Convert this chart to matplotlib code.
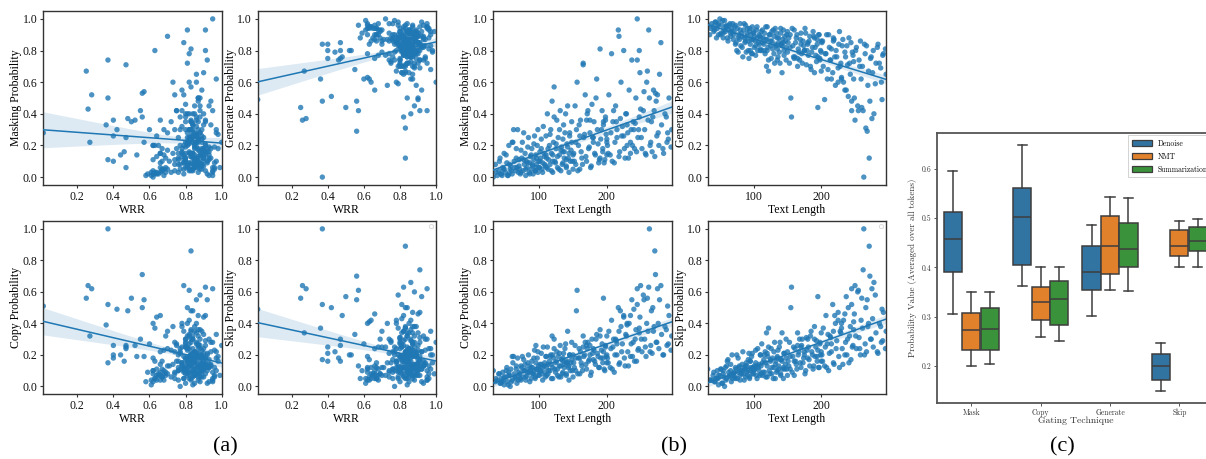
import numpy as np
import matplotlib
matplotlib.use("Agg")
import matplotlib.pyplot as plt
from matplotlib.patches import Patch

# ---------------- data: per-sample values read (estimated) from the scatter panels ----------------
wrr = [
    # low-WRR samples
    0.012, 0.25, 0.26, 0.27, 0.28, 0.36, 0.37, 0.37, 0.37, 0.40, 0.40, 0.40, 0.42, 0.44, 0.46, 0.47, 0.47, 0.48, 0.47,
    0.50, 0.52, 0.53, 0.55, 0.56, 0.56, 0.57, 0.57, 0.58, 0.59, 0.60, 0.62, 0.63, 0.64, 0.66, 0.67, 0.69, 0.70,
    # length 30-70
    0.62, 0.88, 0.68, 0.91, 0.85, 0.79, 0.95, 0.84, 0.72, 0.87, 0.93, 0.65, 0.77, 0.89, 0.64, 0.83, 0.86, 0.74, 0.90, 0.80,
    0.97, 0.85,
    0.63, 0.80, 0.92, 0.83, 0.68, 0.61, 0.85, 0.95, 0.81, 0.87, 0.90, 0.76,
    # length 70-110
    0.84, 0.63, 0.90, 0.86, 0.67, 0.82, 0.66, 0.95, 0.80, 0.85, 0.76, 0.69, 0.83, 0.87, 0.79, 0.98, 0.81, 0.65, 0.74, 0.89,
    0.84, 0.91, 0.77, 0.62, 0.64, 0.71, 0.85, 0.93, 0.80, 0.87, 0.82, 0.96, 0.78, 0.84, 0.90,
    0.81, 0.70, 0.66, 0.76, 0.84, 0.89, 0.82, 0.85, 0.62, 0.79, 0.86, 0.91, 0.83, 0.88, 0.74, 0.85, 0.80, 0.94, 0.87, 0.82,
    0.89, 0.84,
    # length 110-150
    0.86, 0.81, 0.70, 0.63, 0.84, 0.89, 0.73, 0.87, 0.95, 0.80, 0.83, 0.90, 0.78, 0.66, 0.99, 0.82, 0.88, 0.75, 0.67, 0.93,
    0.79, 0.84, 0.91, 0.70, 0.87, 0.81, 0.85, 0.76, 0.61, 0.83, 0.89, 0.80, 0.97,
    0.69, 0.90, 0.79, 0.86, 0.82, 0.93, 0.77, 0.88, 0.85, 0.64, 0.96, 0.83, 0.87, 0.74, 0.89, 0.84, 0.80, 0.66, 0.86, 0.78,
    0.85, 0.92, 0.82, 0.88,
    # length 150-200
    0.83, 0.88, 0.76, 0.84, 0.82, 0.91, 0.68, 0.86, 0.93, 0.81, 0.87, 0.74, 0.85, 0.90, 0.67, 0.88, 0.96, 0.80, 0.84, 0.72,
    0.89, 0.97, 0.77, 0.92, 0.83, 0.87, 0.75, 0.82, 0.94, 0.62, 0.80, 0.98,
    0.87, 0.81, 0.62, 0.84, 0.78, 0.89, 0.86, 0.83, 0.95, 0.80, 0.85, 0.90, 0.76, 0.88, 0.82, 0.93, 0.68, 0.87, 0.79, 0.91,
    0.85, 0.83,
    # length 200-250
    0.85, 0.79, 0.90, 0.82, 0.87, 0.66, 0.93, 0.84, 0.81, 0.88, 0.73, 0.86, 0.91, 0.80, 0.84, 0.97, 0.78, 0.89, 0.92, 0.83,
    0.75, 0.87, 0.95, 0.82, 0.90,
    0.83, 0.88, 0.67, 0.86, 0.91, 0.78, 0.85, 0.89, 0.82, 0.94, 0.87, 0.79, 0.84, 0.90, 0.81, 0.86,
    # length 250-297
    0.84, 0.88, 0.80, 0.86, 0.91, 0.77, 0.83, 0.89, 0.83, 0.94, 0.81, 0.86, 0.79, 0.92, 0.85, 1.00, 0.87, 0.82,
    0.85, 0.80, 0.89, 0.83, 0.87, 0.92, 0.78, 0.86, 0.81, 0.90, 0.84, 0.88, 0.82, 0.96,
]

text_len = [
    290, 260, 250, 200, 275, 230, 245, 263, 140, 170, 160, 120, 240, 150, 135, 165, 180, 220, 95,
    195, 175, 110, 210, 272, 268, 255, 60, 45, 55, 215, 230, 248, 225, 235, 48, 190, 218,
    32, 35, 38, 40, 42, 44, 46, 48, 50, 52, 53, 55, 57, 58, 60, 62, 63, 65, 66, 67,
    68, 70,
    36, 41, 43, 47, 51, 54, 56, 59, 61, 64, 66, 69,
    71, 72, 74, 75, 76, 78, 79, 80, 81, 82, 84, 85, 86, 87, 88, 89, 90, 91, 92, 93,
    94, 95, 96, 97, 98, 99, 100, 101, 102, 103, 104, 105, 106, 108, 109,
    70, 73, 73, 77, 77, 80, 83, 83, 86, 88, 90, 92, 94, 96, 98, 100, 101, 103, 105, 107,
    108, 110,
    111, 112, 113, 115, 116, 117, 118, 119, 120, 121, 122, 123, 125, 126, 127, 128, 130, 131, 132, 133,
    135, 136, 137, 138, 140, 141, 142, 143, 144, 145, 147, 148, 149,
    111, 113, 114, 116, 118, 120, 122, 124, 125, 127, 129, 130, 132, 134, 135, 137, 139, 140, 142, 144,
    145, 146, 148, 150,
    151, 153, 154, 155, 156, 158, 160, 161, 163, 165, 166, 168, 170, 171, 173, 175, 176, 178, 180, 181,
    183, 185, 186, 188, 190, 191, 193, 194, 195, 197, 198, 199,
    152, 154, 157, 159, 162, 164, 167, 169, 172, 174, 177, 179, 182, 184, 187, 189, 192, 194, 196, 198,
    200, 200,
    201, 203, 205, 207, 209, 211, 213, 215, 217, 219, 221, 223, 225, 227, 229, 231, 233, 235, 237, 239,
    241, 243, 245, 247, 249,
    202, 206, 208, 212, 214, 218, 222, 226, 228, 232, 236, 238, 242, 244, 246, 248,
    251, 254, 257, 259, 262, 264, 266, 269, 271, 273, 276, 278, 280, 283, 286, 289, 292, 296,
    252, 256, 258, 261, 265, 267, 270, 274, 277, 281, 284, 288, 291, 295,
]

mask_prob = [
    0.28, 0.67, 0.43, 0.22, 0.52, 0.33, 0.74, 0.50, 0.11, 0.36, 0.26, 0.10, 0.30, 0.14, 0.16, 0.71, 0.25, 0.37, 0.06,
    0.35, 0.36, 0.14, 0.42, 0.53, 0.38, 0.54, 0.22, 0.01, 0.02, 0.30, 0.20, 0.80, 0.26, 0.15, 0.05, 0.12, 0.89,
    0.00, 0.08, 0.01, 0.04, 0.12, 0.02, 0.06, 0.15, 0.03, 0.09, 0.01, 0.20, 0.05, 0.07, 0.02, 0.30, 0.10, 0.04, 0.18, 0.06,
    0.30, 0.11,
    0.03, 0.10, 0.02, 0.05, 0.14, 0.01, 0.08, 0.04, 0.22, 0.06, 0.12, 0.03,
    0.05, 0.02, 0.12, 0.22, 0.04, 0.08, 0.15, 0.01, 0.10, 0.06, 0.25, 0.03, 0.09, 0.13, 0.05, 0.18, 0.07, 0.02, 0.11, 0.26,
    0.04, 0.14, 0.08, 0.20, 0.03, 0.10, 0.06, 0.16, 0.12, 0.24, 0.05, 0.09, 0.32, 0.13, 0.07,
    0.07, 0.17, 0.03, 0.11, 0.28, 0.05, 0.09, 0.19, 0.02, 0.14, 0.08, 0.21, 0.04, 0.12, 0.30, 0.06, 0.10, 0.18, 0.03, 0.15,
    0.08, 0.26,
    0.12, 0.40, 0.05, 0.20, 0.08, 0.30, 0.15, 0.48, 0.03, 0.22, 0.57, 0.10, 0.18, 0.36, 0.06, 0.25, 0.14, 0.42, 0.04, 0.19,
    0.09, 0.33, 0.16, 0.28, 0.07, 0.21, 0.45, 0.12, 0.03, 0.26, 0.17, 0.35, 0.10,
    0.06, 0.18, 0.11, 0.27, 0.04, 0.14, 0.38, 0.09, 0.21, 0.13, 0.05, 0.30, 0.17, 0.08, 0.24, 0.12, 0.40, 0.06, 0.19, 0.15,
    0.28, 0.10, 0.22, 0.05,
    0.15, 0.45, 0.08, 0.30, 0.60, 0.20, 0.05, 0.36, 0.12, 0.72, 0.25, 0.52, 0.10, 0.40, 0.18, 0.28, 0.06, 0.46, 0.22, 0.35,
    0.14, 0.62, 0.30, 0.09, 0.81, 0.24, 0.42, 0.16, 0.33, 0.11, 0.38, 0.27,
    0.10, 0.22, 0.04, 0.33, 0.16, 0.08, 0.27, 0.13, 0.42, 0.19, 0.07, 0.25, 0.15, 0.50, 0.21, 0.11, 0.30, 0.18, 0.09, 0.36,
    0.14, 0.24,
    0.20, 0.52, 0.14, 0.78, 0.35, 0.09, 0.45, 0.25, 0.93, 0.16, 0.60, 0.32, 0.80, 0.12, 0.40, 0.28, 0.55, 0.22, 0.74, 0.35,
    0.18, 0.50, 1.00, 0.30, 0.66,
    0.15, 0.28, 0.10, 0.22, 0.35, 0.13, 0.26, 0.18, 0.40, 0.12, 0.30, 0.20, 0.34, 0.16, 0.25, 0.38,
    0.25, 0.42, 0.15, 0.60, 0.93, 0.20, 0.35, 0.55, 0.13, 0.48, 0.28, 0.65, 0.85, 0.18, 0.40, 0.22, 0.50, 0.30,
    0.18, 0.30, 0.14, 0.36, 0.22, 0.16, 0.42, 0.26, 0.20, 0.33, 0.15, 0.38, 0.24, 0.19,
]

generate_prob = [
    0.49, 0.44, 0.36, 0.67, 0.37, 0.62, 0.48, 0.00, 0.84, 0.84, 0.75, 0.80, 0.51, 0.79, 0.74, 0.75, 0.85, 0.76, 0.80,
    0.44, 0.80, 0.80, 0.68, 0.48, 0.29, 0.42, 0.96, 0.88, 0.91, 0.62, 0.63, 0.62, 0.60, 0.55, 0.90, 0.88, 0.86,
    0.96, 0.90, 0.97, 0.95, 0.93, 0.98, 0.94, 0.97, 1.00, 0.91, 0.96, 0.88, 0.99, 0.92, 0.95, 0.86, 0.93, 0.97, 0.89, 0.94,
    0.92, 0.87,
    0.94, 0.92, 0.98, 0.96, 0.90, 0.99, 0.93, 0.95, 0.88, 0.96, 0.91, 0.97,
    0.92, 0.95, 0.85, 0.80, 0.94, 0.90, 0.87, 0.97, 0.83, 0.91, 0.76, 0.93, 0.88, 0.85, 0.96, 0.79, 0.89, 0.94, 0.86, 0.75,
    0.92, 0.84, 0.90, 0.78, 0.95, 0.87, 0.91, 0.82, 0.86, 0.77, 0.93, 0.88, 0.80, 0.84, 0.89,
    0.90, 0.84, 0.96, 0.88, 0.79, 0.93, 0.89, 0.82, 0.97, 0.86, 0.91, 0.80, 0.94, 0.87, 0.78, 0.92, 0.89, 0.83, 0.95, 0.85,
    0.90, 0.81,
    0.88, 0.80, 0.93, 0.84, 0.91, 0.78, 0.87, 0.70, 0.95, 0.82, 0.67, 0.90, 0.86, 0.75, 0.92, 0.81, 0.89, 0.72, 0.94, 0.83,
    0.88, 0.76, 0.85, 0.79, 0.91, 0.84, 0.66, 0.87, 0.93, 0.80, 0.86, 0.74, 0.90,
    0.92, 0.85, 0.88, 0.80, 0.95, 0.87, 0.74, 0.90, 0.83, 0.86, 0.93, 0.78, 0.84, 0.91, 0.81, 0.88, 0.72, 0.94, 0.83, 0.85,
    0.77, 0.89, 0.82, 0.92,
    0.85, 0.72, 0.90, 0.50, 0.38, 0.83, 0.93, 0.76, 0.88, 0.70, 0.81, 0.74, 0.91, 0.78, 0.86, 0.80, 0.94, 0.71, 0.84, 0.77,
    0.89, 0.68, 0.79, 0.92, 0.66, 0.82, 0.73, 0.87, 0.76, 0.90, 0.75, 0.80,
    0.88, 0.82, 0.94, 0.76, 0.85, 0.90, 0.79, 0.87, 0.72, 0.83, 0.91, 0.80, 0.86, 0.70, 0.82, 0.89, 0.77, 0.84, 0.90, 0.74,
    0.86, 0.79,
    0.85, 0.70, 0.49, 0.78, 0.62, 0.90, 0.74, 0.81, 0.66, 0.87, 0.58, 0.76, 0.69, 0.92, 0.72, 0.83, 0.60, 0.79, 0.55, 0.71,
    0.88, 0.65, 0.42, 0.77, 0.50,
    0.86, 0.78, 0.90, 0.82, 0.74, 0.88, 0.80, 0.84, 0.70, 0.87, 0.76, 0.83, 0.72, 0.85, 0.79, 0.73,
    0.80, 0.45, 0.70, 0.62, 0.42, 0.84, 0.31, 0.58, 0.12, 0.75, 0.66, 0.40, 0.59, 0.82, 0.72, 0.60, 0.78, 0.65,
    0.82, 0.74, 0.86, 0.70, 0.78, 0.83, 0.67, 0.76, 0.80, 0.72, 0.84, 0.69, 0.77, 0.81,
]

copy_prob = [
    0.51, 0.56, 0.64, 0.32, 0.62, 0.39, 0.52, 1.00, 0.15, 0.26, 0.18, 0.20, 0.49, 0.20, 0.16, 0.25, 0.24, 0.48, 0.26,
    0.56, 0.26, 0.19, 0.30, 0.71, 0.50, 0.55, 0.19, 0.03, 0.09, 0.27, 0.40, 0.37, 0.44, 0.45, 0.06, 0.32, 0.35,
    0.10, 0.03, 0.04, 0.08, 0.02, 0.05, 0.09, 0.01, 0.06, 0.12, 0.03, 0.07, 0.00, 0.11, 0.04, 0.19, 0.08, 0.05, 0.13, 0.02,
    0.18, 0.09,
    0.05, 0.08, 0.02, 0.04, 0.10, 0.01, 0.07, 0.03, 0.15, 0.06, 0.11, 0.04,
    0.08, 0.05, 0.12, 0.19, 0.06, 0.10, 0.14, 0.04, 0.11, 0.07, 0.20, 0.09, 0.13, 0.10, 0.05, 0.16, 0.12, 0.08, 0.09, 0.23,
    0.06, 0.15, 0.11, 0.18, 0.07, 0.13, 0.09, 0.14, 0.10, 0.21, 0.08, 0.12, 0.25, 0.15, 0.06,
    0.07, 0.13, 0.04, 0.10, 0.17, 0.06, 0.09, 0.15, 0.03, 0.12, 0.08, 0.18, 0.05, 0.11, 0.22, 0.07, 0.10, 0.14, 0.04, 0.13,
    0.09, 0.19,
    0.12, 0.25, 0.08, 0.16, 0.10, 0.20, 0.14, 0.32, 0.05, 0.18, 0.30, 0.11, 0.15, 0.22, 0.07, 0.19, 0.13, 0.26, 0.06, 0.17,
    0.09, 0.21, 0.14, 0.24, 0.08, 0.16, 0.35, 0.12, 0.04, 0.20, 0.15, 0.28, 0.10,
    0.07, 0.14, 0.10, 0.19, 0.05, 0.12, 0.24, 0.09, 0.16, 0.11, 0.06, 0.21, 0.13, 0.08, 0.18, 0.12, 0.27, 0.07, 0.15, 0.13,
    0.20, 0.10, 0.17, 0.06,
    0.15, 0.26, 0.10, 0.48, 0.61, 0.18, 0.08, 0.22, 0.13, 0.32, 0.19, 0.28, 0.11, 0.24, 0.16, 0.20, 0.07, 0.30, 0.17, 0.23,
    0.14, 0.33, 0.21, 0.12, 0.36, 0.18, 0.27, 0.15, 0.22, 0.10, 0.25, 0.19,
    0.12, 0.18, 0.08, 0.24, 0.15, 0.10, 0.20, 0.14, 0.28, 0.17, 0.09, 0.21, 0.16, 0.30, 0.19, 0.12, 0.23, 0.18, 0.11, 0.26,
    0.15, 0.20,
    0.18, 0.35, 0.12, 0.42, 0.25, 0.09, 0.30, 0.20, 0.50, 0.15, 0.38, 0.27, 0.45, 0.13, 0.32, 0.22, 0.40, 0.19, 0.55, 0.28,
    0.16, 0.36, 0.62, 0.24, 0.44,
    0.15, 0.24, 0.11, 0.20, 0.29, 0.14, 0.22, 0.18, 0.33, 0.13, 0.27, 0.19, 0.30, 0.16, 0.23, 0.34,
    0.30, 0.58, 0.25, 0.40, 0.63, 0.22, 0.48, 0.35, 0.86, 0.28, 0.40, 0.55, 0.64, 0.20, 0.38, 0.26, 0.45, 0.32,
    0.22, 0.30, 0.19, 0.35, 0.26, 0.21, 0.38, 0.28, 0.24, 0.33, 0.20, 0.36, 0.27, 0.23,
]

skip_prob = [
    0.49, 0.56, 0.64, 0.34, 0.62, 0.37, 0.52, 1.00, 0.17, 0.25, 0.16, 0.21, 0.50, 0.22, 0.18, 0.26, 0.30, 0.45, 0.16,
    0.57, 0.20, 0.20, 0.33, 0.70, 0.55, 0.61, 0.13, 0.05, 0.10, 0.27, 0.40, 0.41, 0.42, 0.46, 0.07, 0.30, 0.35,
    0.11, 0.04, 0.04, 0.07, 0.03, 0.05, 0.10, 0.01, 0.07, 0.11, 0.02, 0.08, 0.00, 0.12, 0.05, 0.17, 0.09, 0.06, 0.14, 0.03,
    0.20, 0.08,
    0.04, 0.09, 0.03, 0.05, 0.11, 0.02, 0.06, 0.04, 0.16, 0.07, 0.10, 0.05,
    0.09, 0.06, 0.11, 0.20, 0.05, 0.12, 0.13, 0.04, 0.10, 0.08, 0.22, 0.08, 0.12, 0.11, 0.06, 0.15, 0.13, 0.07, 0.10, 0.21,
    0.05, 0.16, 0.10, 0.19, 0.08, 0.12, 0.10, 0.13, 0.11, 0.23, 0.07, 0.13, 0.24, 0.14, 0.07,
    0.08, 0.12, 0.05, 0.09, 0.18, 0.07, 0.10, 0.14, 0.04, 0.13, 0.09, 0.17, 0.06, 0.12, 0.21, 0.08, 0.11, 0.15, 0.05, 0.12,
    0.10, 0.20,
    0.13, 0.27, 0.07, 0.17, 0.09, 0.22, 0.15, 0.34, 0.06, 0.19, 0.37, 0.10, 0.16, 0.24, 0.08, 0.18, 0.12, 0.28, 0.05, 0.16,
    0.10, 0.23, 0.13, 0.25, 0.07, 0.17, 0.34, 0.11, 0.05, 0.21, 0.14, 0.30, 0.11,
    0.08, 0.15, 0.09, 0.20, 0.06, 0.13, 0.25, 0.08, 0.17, 0.12, 0.05, 0.22, 0.14, 0.09, 0.19, 0.11, 0.28, 0.08, 0.16, 0.12,
    0.21, 0.11, 0.18, 0.07,
    0.16, 0.28, 0.11, 0.50, 0.63, 0.19, 0.07, 0.24, 0.14, 0.34, 0.20, 0.30, 0.12, 0.26, 0.15, 0.22, 0.08, 0.31, 0.18, 0.25,
    0.13, 0.35, 0.22, 0.11, 0.38, 0.19, 0.29, 0.16, 0.23, 0.12, 0.27, 0.20,
    0.13, 0.19, 0.09, 0.25, 0.16, 0.11, 0.22, 0.15, 0.30, 0.18, 0.10, 0.23, 0.17, 0.32, 0.20, 0.13, 0.25, 0.19, 0.12, 0.28,
    0.16, 0.22,
    0.20, 0.37, 0.13, 0.45, 0.27, 0.10, 0.32, 0.22, 0.52, 0.14, 0.40, 0.29, 0.47, 0.12, 0.34, 0.24, 0.42, 0.20, 0.57, 0.30,
    0.15, 0.38, 0.62, 0.26, 0.46,
    0.16, 0.25, 0.12, 0.21, 0.31, 0.15, 0.24, 0.19, 0.35, 0.14, 0.28, 0.20, 0.32, 0.17, 0.25, 0.36,
    0.32, 0.60, 0.24, 0.42, 0.74, 0.20, 0.50, 0.38, 0.89, 0.30, 0.43, 0.66, 0.58, 0.22, 0.40, 0.28, 0.47, 0.35,
    0.24, 0.31, 0.20, 0.37, 0.27, 0.22, 0.40, 0.30, 0.25, 0.34, 0.21, 0.38, 0.29, 0.24,
]

# ---------------- data: box plot (c) ----------------
techniques = ["Mask", "Copy", "Generate", "Skip"]
tasks = ["Denoise", "NMT", "Summarization"]
box_whislo = [[0.305, 0.200, 0.204], [0.363, 0.258, 0.251], [0.302, 0.353, 0.352], [0.149, 0.400, 0.401]]
box_q1 = [[0.390, 0.232, 0.233], [0.405, 0.293, 0.282], [0.355, 0.386, 0.401], [0.172, 0.424, 0.434]]
box_med = [[0.458, 0.272, 0.274], [0.503, 0.329, 0.336], [0.390, 0.444, 0.437], [0.199, 0.444, 0.454]]
box_q3 = [[0.512, 0.307, 0.318], [0.561, 0.361, 0.373], [0.443, 0.504, 0.491], [0.224, 0.475, 0.481]]
box_whishi = [[0.595, 0.349, 0.349], [0.648, 0.400, 0.400], [0.486, 0.542, 0.540], [0.246, 0.495, 0.498]]

# ---------------- styling ----------------
SERIF = "Liberation Serif"
CM = "cmr10"
BLUE = "#1f77b4"
FRAME = "#333333"
plt.rcParams["font.family"] = [SERIF, "DejaVu Serif"]
plt.rcParams["axes.formatter.use_mathtext"] = True

n = min(len(wrr), len(text_len), len(mask_prob), len(generate_prob), len(copy_prob), len(skip_prob))
WRR = np.asarray(wrr[:n], float)
LEN = np.asarray(text_len[:n], float)
YS = {
    "Masking Probability": np.asarray(mask_prob[:n], float),
    "Generate Probability": np.asarray(generate_prob[:n], float),
    "Copy Probability": np.asarray(copy_prob[:n], float),
    "Skip Probability": np.asarray(skip_prob[:n], float),
}

fig = plt.figure(figsize=(12.06, 4.59), dpi=100)


def reg_panel(ax, x, y, xlabel, ylabel, xticks, xticklabels, empty_legend=False):
    ax.scatter(x, y, s=15, color=BLUE, alpha=0.8, edgecolors="none", zorder=2)
    b, a = np.polyfit(x, y, 1)
    xs = np.linspace(x.min(), x.max(), 100)
    yh = a + b * xs
    m = len(x)
    resid = y - (a + b * x)
    s = np.sqrt((resid ** 2).sum() / (m - 2))
    xm = x.mean()
    sxx = ((x - xm) ** 2).sum()
    se = s * np.sqrt(1.0 / m + (xs - xm) ** 2 / sxx)
    ax.fill_between(xs, yh - 1.96 * se, yh + 1.96 * se, color=BLUE, alpha=0.15, lw=0, zorder=1)
    ax.plot(xs, yh, color=BLUE, lw=1.1, zorder=3)
    ax.set_xlim(x.min(), x.max())
    ax.set_ylim(-0.05, 1.05)
    ax.set_yticks([0.0, 0.2, 0.4, 0.6, 0.8, 1.0])
    ax.set_yticklabels(["0.0", "0.2", "0.4", "0.6", "0.8", "1.0"])
    ax.set_xticks(xticks)
    ax.set_xticklabels(xticklabels)
    ax.tick_params(labelsize=8.5, length=2.5, width=0.8, pad=1.5, colors=FRAME, labelcolor="#111111")
    ax.set_xlabel(xlabel, fontsize=8.5, labelpad=1, family=SERIF)
    ax.set_ylabel(ylabel, fontsize=8.5, labelpad=0.5, family=SERIF)
    for sp in ax.spines.values():
        sp.set_color(FRAME)
        sp.set_linewidth(1.0)
    if empty_legend:
        leg = ax.legend(handles=[], loc="upper right", borderpad=0.25, fontsize=5)
        leg.get_frame().set_linewidth(0.6)


W, H = 1206.0, 459.0
lefts = [43.3, 257.7, 493.3, 707.7]
aw = 178.4 / W
top_row = ((459 - 185) / H, 174 / H)
bot_row = ((459 - 394.3) / H, 173.3 / H)

panels = [
    (0, top_row, WRR, "WRR", "Masking Probability", False),
    (1, top_row, WRR, "WRR", "Generate Probability", False),
    (0, bot_row, WRR, "WRR", "Copy Probability", False),
    (1, bot_row, WRR, "WRR", "Skip Probability", True),
    (2, top_row, LEN, "Text Length", "Masking Probability", False),
    (3, top_row, LEN, "Text Length", "Generate Probability", False),
    (2, bot_row, LEN, "Text Length", "Copy Probability", False),
    (3, bot_row, LEN, "Text Length", "Skip Probability", True),
]
for li, (yb, hh), xd, xl, yl, el in panels:
    ax = fig.add_axes([lefts[li] / W, yb, aw, hh])
    if xl == "WRR":
        ticks = [0.2, 0.4, 0.6, 0.8, 1.0]
        labs = ["0.2", "0.4", "0.6", "0.8", "1.0"]
    else:
        ticks = [100, 200]
        labs = ["100", "200"]
    reg_panel(ax, xd, YS[yl], xl, yl, ticks, labs, empty_legend=el)

# ---------------- (c) box plot ----------------
box_colors = ["#3274a1", "#e1812c", "#3a923a"]
GRAY = "#3d3d3d"
axc = fig.add_axes([936.7 / W, 56.3 / H, (1214.0 - 936.7) / W, 269.7 / H])
bw = 0.8 / 3
for k, task in enumerate(tasks):
    stats = []
    pos = []
    for i, tech in enumerate(techniques):
        stats.append(dict(med=box_med[i][k], q1=box_q1[i][k], q3=box_q3[i][k],
                          whislo=box_whislo[i][k], whishi=box_whishi[i][k], label=tech))
        pos.append(i + (k - 1) * bw)
    axc.bxp(stats, positions=pos, widths=bw * 0.98, patch_artist=True, showfliers=False,
            boxprops=dict(facecolor=box_colors[k], edgecolor=GRAY, linewidth=1.1),
            whiskerprops=dict(color=GRAY, linewidth=1.1),
            capprops=dict(color=GRAY, linewidth=1.1),
            medianprops=dict(color=GRAY, linewidth=1.1),
            manage_ticks=False)
axc.set_xlim(-0.5, 3.5)
axc.set_ylim(0.125, 0.673)
axc.set_xticks(range(len(techniques)))
axc.set_xticklabels(techniques, family=CM, fontsize=5.5)
axc.set_yticks([0.2, 0.3, 0.4, 0.5, 0.6])
axc.set_yticklabels(["0.2", "0.3", "0.4", "0.5", "0.6"], family=CM, fontsize=5.5)
axc.tick_params(length=2, width=0.7, pad=2, colors="#555555", labelcolor="#333333")
axc.set_xlabel("Gating Technique", family=CM, fontsize=7, labelpad=0, color="#333333")
axc.set_ylabel("Probability Value (Averaged over all tokens)", family=CM, fontsize=6.5,
               labelpad=3, color="#333333")
for sp in axc.spines.values():
    sp.set_color("#555555")
    sp.set_linewidth(1.3)
handles = [Patch(facecolor=c, edgecolor=GRAY, linewidth=0.9) for c in box_colors]
leg = axc.legend(handles, tasks, loc="upper right", prop={"family": CM, "size": 5.5},
                 handlelength=2.6, handleheight=0.8, borderpad=0.5, labelspacing=0.6,
                 framealpha=1.0, fancybox=False, borderaxespad=0.3)
leg.get_frame().set_edgecolor("#cccccc")
leg.get_frame().set_linewidth(0.6)

# ---------------- captions ----------------
for xc, txt in [(225.7, "(a)"), (674.0, "(b)"), (1062.0, "(c)")]:
    fig.text(xc / W, 0.026, txt, ha="center", va="center", fontsize=16, family=SERIF)

fig.savefig("out.png", dpi=100)
